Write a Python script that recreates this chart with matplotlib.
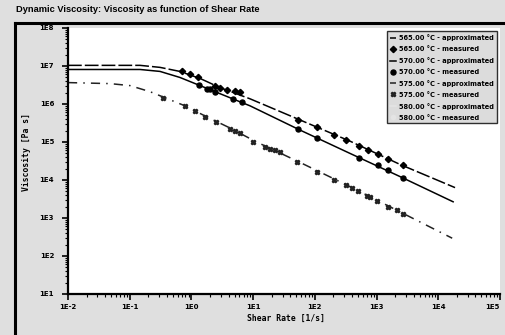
import matplotlib
matplotlib.use("Agg")
import matplotlib.pyplot as plt
from matplotlib.lines import Line2D

# ---- data ----
temps = ["565.00", "570.00", "575.00", "580.00"]

# approximated curves
x_fit_565 = [0.01, 0.147, 0.31, 0.65, 1.38, 2.9, 8.9, 57.5, 372, 2400, 18700]
y_fit_565 = [1.04e7, 1.04e7, 9.2e6, 7.2e6, 4.7e6, 2.7e6, 1.37e6, 3.8e5, 1.05e5, 2.57e4, 6.3e3]
x_fit_570 = [0.01, 0.147, 0.31, 0.65, 1.38, 2.9, 8.9, 57.5, 372, 2400, 17400]
y_fit_570 = [8.1e6, 8.1e6, 7.2e6, 5.0e6, 3.05e6, 1.87e6, 8.95e5, 2.06e5, 5.0e4, 1.23e4, 2.67e3]
x_fit_575 = [0.01, 0.048, 0.101, 0.213, 0.373, 0.787, 1.66, 4.23, 10.7, 57.5, 372, 2400, 16800]
y_fit_575 = [3.66e6, 3.44e6, 3.05e6, 2.11e6, 1.46e6, 8.95e5, 4.85e5, 2.33e5, 1.05e5, 2.9e4, 6.7e3, 1.45e3, 294]
x_fit_580 = []
y_fit_580 = []

# measured points
x_m_565 = [0.697, 0.95, 1.29, 2.41, 2.91, 3.82, 5.09, 6.14, 53.5, 107, 207, 320, 526, 736, 1045, 1550, 2660]
y_m_565 = [7.6e6, 5.98e6, 5.07e6, 2.92e6, 2.65e6, 2.34e6, 2.15e6, 2.02e6, 3.8e5, 2.43e5, 1.52e5, 1.12e5,
           7.7e4, 6.05e4, 4.74e4, 3.64e4, 2.42e4]
x_m_570 = [1.34, 1.77, 2.0, 2.41, 4.67, 6.53, 53.5, 107, 526, 1045, 1550, 2660]
y_m_570 = [3.24e6, 2.54e6, 2.49e6, 2.07e6, 1.35e6, 1.10e6, 2.15e5, 1.26e5, 3.87e4, 2.42e4, 1.78e4, 1.11e4]
x_m_575 = [0.351, 0.787, 1.14, 1.66, 2.46, 4.23, 5.09, 6.14, 10.1, 15.6, 18.8, 22.6, 27.3, 50.9, 107, 207,
           320, 396, 507, 693, 785, 1030, 1550, 2120, 2660]
y_m_575 = [1.44e6, 8.95e5, 6.47e5, 4.65e5, 3.43e5, 2.23e5, 1.97e5, 1.68e5, 1.01e5, 7.4e4, 6.7e4, 6.05e4,
           5.46e4, 2.96e4, 1.67e4, 1.01e4, 7.55e3, 6.17e3, 5.23e3, 3.85e3, 3.47e3, 2.83e3, 1.96e3, 1.60e3, 1.30e3]
x_m_580 = []
y_m_580 = []

x_ticks = [1e-2, 1e-1, 1e0, 1e1, 1e2, 1e3, 1e4, 1e5]
x_tick_labels = ["1E-2", "1E-1", "1E0", "1E1", "1E2", "1E3", "1E4", "1E5"]
y_ticks = [1e1, 1e2, 1e3, 1e4, 1e5, 1e6, 1e7, 1e8]
y_tick_labels = ["1E1", "1E2", "1E3", "1E4", "1E5", "1E6", "1E7", "1E8"]

title = "Dynamic Viscosity: Viscosity as function of Shear Rate"
xlabel = "Shear Rate [1/s]"
ylabel = "Viscosity [Pa s]"

# ---- figure ----
W, H = 505, 335
fig = plt.figure(figsize=(W / 100, H / 100), dpi=100)
fig.patch.set_facecolor("#dfdfdf")

ax = fig.add_axes([68 / W, 1 - 294 / H, (500 - 68) / W, (294 - 28) / H])
ax.set_facecolor("white")
ax.set_xscale("log")
ax.set_yscale("log")
ax.set_xlim(1e-2, 1e5)
ax.set_ylim(1e1, 1e8)

fits = [(x_fit_565, y_fit_565, "black", (0, (9, 2))),
        (x_fit_570, y_fit_570, "black", "-"),
        (x_fit_575, y_fit_575, "#222222", (0, (6, 4, 1, 4))),
        (x_fit_580, y_fit_580, "#e4e4e4", "-")]
meas = [(x_m_565, y_m_565, "black", "D", 3.2),
        (x_m_570, y_m_570, "black", "o", 3.6),
        (x_m_575, y_m_575, "#222222", "X", 3.2),
        (x_m_580, y_m_580, "#e4e4e4", "o", 3.0)]

handles = []
labels = []
for t, (fx, fy, fc, ls), (mx, my, mc, mk, ms) in zip(temps, fits, meas):
    h1, = ax.plot(fx, fy, color=fc, linestyle=ls, linewidth=1.1)
    h2, = ax.plot(mx, my, linestyle="none", marker=mk, color=mc, markersize=ms)
    handles += [h1, h2]
    labels += [f"{t} \u00b0C - approximated", f"{t} \u00b0C - measured"]

tick_font = dict(family="DejaVu Sans", weight="bold", size=5)
ax.set_xticks(x_ticks)
ax.set_xticklabels(x_tick_labels, **tick_font)
ax.set_yticks(y_ticks)
ax.set_yticklabels(y_tick_labels, **tick_font)
ax.tick_params(which="major", length=4, width=1.2, direction="out")
ax.tick_params(axis="x", which="major", pad=3)
ax.tick_params(axis="y", which="major", pad=6)
ax.tick_params(which="minor", length=2.5, width=0.8, direction="out")
ax.get_xticklabels()[-1].set_horizontalalignment("right")
ax.spines["top"].set_visible(False)
ax.spines["right"].set_visible(False)
ax.spines["left"].set_linewidth(1.6)
ax.spines["bottom"].set_linewidth(1.6)

leg = ax.legend(handles, labels, loc="upper right", bbox_to_anchor=(1.0, 1.0),
                prop=dict(family="DejaVu Sans", weight="bold", size=4.8),
                handlelength=1.0, handletextpad=0.4, borderpad=0.4,
                labelspacing=0.75, frameon=True, fancybox=False)
leg.get_frame().set_facecolor("#d4d4d4")
leg.get_frame().set_edgecolor("black")
leg.get_frame().set_linewidth(1.0)

# window frame lines
fig.add_artist(Line2D([15 / W, 1.0], [1 - 23 / H, 1 - 23 / H], color="black", linewidth=2.2))
fig.add_artist(Line2D([15 / W, 15 / W], [0, 1 - 23 / H], color="black", linewidth=2.2))

fig.text(16 / W, 1 - 10 / H, title, family="Liberation Sans", weight="bold", size=6.7,
         ha="left", va="center")
fig.text(286 / W, 1 - 318 / H, xlabel, family="DejaVu Sans Mono", weight="bold", size=5.8,
         ha="center", va="center")
fig.text(27 / W, 1 - 152 / H, ylabel, family="DejaVu Sans Mono", weight="bold", size=5.8,
         ha="center", va="center", rotation=90)

fig.savefig("out.png", dpi=100, facecolor=fig.get_facecolor())
